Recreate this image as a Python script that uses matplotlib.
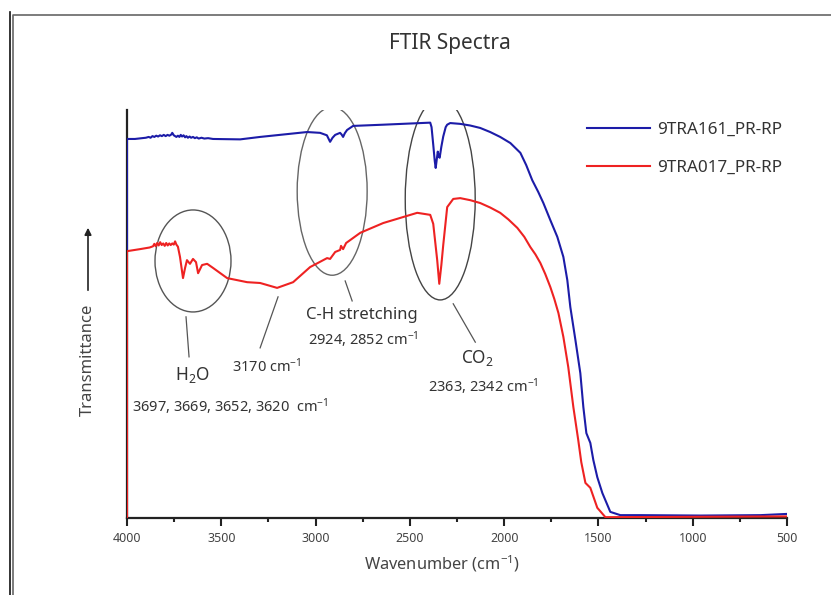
import numpy as np
import matplotlib
matplotlib.use("Agg")
import matplotlib.pyplot as plt
from matplotlib.patches import Ellipse, FancyArrowPatch
from matplotlib.lines import Line2D

plt.rcParams['font.family'] = ['Noto Sans', 'DejaVu Sans']
plt.rcParams['mathtext.fontset'] = 'custom'
plt.rcParams['mathtext.rm'] = 'Noto Sans'
plt.rcParams['mathtext.it'] = 'Noto Sans:italic'

# spectra (wavenumber in cm-1, transmittance in arbitrary units)
wn_161 = [4000, 4000, 3958, 3920, 3900, 3885, 3875, 3865, 3855, 3845, 3835, 3825, 3815, 3805,
          3795, 3785, 3775, 3765, 3760, 3752, 3745, 3738, 3730, 3722, 3715, 3708, 3700, 3692,
          3685, 3677, 3668, 3660, 3650, 3640, 3630, 3620, 3605, 3590, 3570, 3544, 3400, 3294,
          3045, 2976, 2940, 2923, 2910, 2896, 2870, 2862, 2854, 2845, 2833, 2801, 2641, 2392,
          2385, 2376, 2368, 2363, 2357, 2352, 2347, 2342, 2333, 2323, 2310, 2302, 2286, 2233,
          2180, 2127, 2074, 2021, 1967, 1914, 1883, 1851, 1819, 1792, 1755, 1718, 1686, 1665,
          1649, 1622, 1596, 1580, 1564, 1543, 1527, 1506, 1479, 1437, 1384, 1277, 959, 641, 500]
t_161 = [0, 92.9, 92.9, 93.1, 93.2, 93.4, 93.2, 93.6, 93.4, 93.7, 93.5, 93.8, 93.6, 93.9,
         93.6, 93.9, 93.7, 94.0, 94.4, 93.8, 93.6, 93.4, 93.7, 93.4, 93.9, 93.5, 93.8, 93.3,
         93.6, 93.2, 93.5, 93.2, 93.4, 93.1, 93.3, 93.0, 93.2, 93.0, 93.1, 92.9, 92.8, 93.4,
         94.6, 94.4, 93.8, 92.2, 93.2, 93.9, 94.4, 94.0, 93.4, 94.3, 95.1, 96.1, 96.4, 96.9,
         95.8, 91.5, 87.5, 85.8, 88.0, 89.8, 88.6, 88.3, 91.0, 93.5, 95.8, 96.4, 96.8, 96.6,
         96.2, 95.6, 94.6, 93.4, 91.9, 89.5, 86.5, 82.8, 79.9, 77.2, 73.0, 68.9, 64.0, 58.3,
         51.7, 43.6, 35.5, 27.2, 20.8, 18.4, 14.2, 10.0, 6.1, 1.5, 0.7, 0.7, 0.6, 0.7, 1.0]

wn_017 = [4000, 4000, 3931, 3880, 3862, 3855, 3848, 3840, 3832, 3824, 3816, 3808, 3800, 3792,
          3784, 3776, 3768, 3760, 3752, 3745, 3738, 3730, 3719, 3703, 3692, 3682, 3666, 3650,
          3634, 3623, 3602, 3575, 3544, 3469, 3363, 3294, 3204, 3119, 3029, 2939, 2923, 2896,
          2870, 2865, 2854, 2838, 2763, 2641, 2461, 2392, 2376, 2355, 2344, 2333, 2323, 2302,
          2270, 2233, 2180, 2127, 2074, 2021, 1978, 1930, 1893, 1861, 1834, 1808, 1782, 1755,
          1734, 1712, 1686, 1660, 1633, 1607, 1591, 1569, 1543, 1506, 1463, 1224, 500]
t_017 = [0, 65.4, 65.9, 66.3, 66.6, 67.2, 66.6, 67.4, 66.8, 67.6, 66.9, 67.3, 66.7, 67.4,
         66.8, 67.3, 66.9, 67.3, 67.0, 67.8, 67.0, 66.5, 64.0, 58.8, 61.3, 63.2, 62.3, 63.5,
         62.7, 60.0, 62.0, 62.3, 61.3, 58.8, 57.8, 57.6, 56.4, 57.8, 61.5, 63.7, 63.5, 65.2,
         65.7, 66.7, 65.9, 67.4, 69.9, 72.3, 74.8, 74.3, 72.1, 63.2, 57.4, 62.0, 66.9, 76.2,
         78.2, 78.4, 77.9, 77.2, 76.1, 74.8, 73.2, 71.1, 68.9, 66.4, 64.6, 62.5, 59.8, 56.6,
         53.7, 50.2, 44.4, 37.0, 27.2, 19.1, 13.7, 8.6, 7.4, 2.5, 0.2, 0.25, 0.4]

labels = ["9TRA161_PR-RP", "9TRA017_PR-RP"]
x_ticks = [4000, 3500, 3000, 2500, 2000, 1500, 1000, 500]

fig = plt.figure(figsize=(8.31, 5.95), dpi=100)
ax = fig.add_axes([127/831, 1 - 518/595, 660/831, 408/595])

ax.plot(wn_161, t_161, color="#1c1ca8", lw=1.5, label=labels[0], zorder=3)
ax.plot(wn_017, t_017, color="#ee2222", lw=1.5, label=labels[1], zorder=3)

ax.set_xlim(4000, 500)
ax.set_ylim(0, 100)
ax.set_xticks(x_ticks)
ax.set_xticks(np.arange(500, 4001, 250), minor=True)
ax.set_yticks([])
ax.tick_params(axis='x', which='major', length=6, width=1.5, color="#222222",
               labelsize=9, labelcolor="#444444", pad=4)
ax.tick_params(axis='x', which='minor', length=3, width=1.5, color="#222222")
for s in ["top", "right"]:
    ax.spines[s].set_visible(False)
for s in ["bottom", "left"]:
    ax.spines[s].set_linewidth(1.6)
    ax.spines[s].set_color("#222222")
ax.set_xlabel("Wavenumber (cm$^{\\mathregular{-1}}$)", fontsize=11.8, color="#444444", labelpad=6)
ax.xaxis.label.set_x(0.477)

fig.text(450/831, 1 - 43/595, "FTIR Spectra", ha="center", va="center",
         fontsize=15, color="#333333")

# peak markers
for c, w, h, ec in [((3650, 63.0), 403, 25.0, "#555555"),
                    ((2912, 80.1), 371, 41.2, "#666666"),
                    ((2339, 78.2), 371, 49.5, "#444444")]:
    ax.add_patch(Ellipse(c, w, h, fill=False, edgecolor=ec, lw=1.0))

for (x0, y0), (x1, y1) in [((3687, 49.3), (3671, 39.5)),
                           ((3199, 54.2), (3294, 41.7)),
                           ((2843, 58.1), (2806, 53.2)),
                           ((2270, 52.5), (2153, 43.1))]:
    ax.plot([x0, x1], [y0, y1], color="#555555", lw=0.9)

txt = dict(ha="center", va="center", color="#333333")
ax.text(3655, 35.0, "H$_\\mathregular{2}$O", fontsize=12.5, **txt)
ax.text(3453, 27.2, "3697, 3669, 3652, 3620  cm$^{\\mathregular{-1}}$", fontsize=10.5, **txt)
ax.text(3257, 37.0, "3170 cm$^{\\mathregular{-1}}$", fontsize=10.5, **txt)
ax.text(2753, 49.8, "C-H stretching", fontsize=12, **txt)
ax.text(2748, 43.6, "2924, 2852 cm$^{\\mathregular{-1}}$", fontsize=10.5, **txt)
ax.text(2143, 39.2, "CO$_\\mathregular{2}$", fontsize=12.5, **txt)
ax.text(2111, 32.1, "2363, 2342 cm$^{\\mathregular{-1}}$", fontsize=10.5, **txt)

# y label with arrow
fig.text(88/831, 1 - 360/595, "Transmittance", rotation=90, ha="center", va="center",
         fontsize=12, color="#444444")
fig.add_artist(FancyArrowPatch((88/831, 1 - 293/595), (88/831, 1 - 225/595),
                               transform=fig.transFigure, arrowstyle="-|>",
                               mutation_scale=10, color="#222222", lw=1.2))

ax.legend(loc="upper left", bbox_to_anchor=(587/831, 1 - 122/595),
          bbox_transform=fig.transFigure, frameon=False, fontsize=12.3,
          handlelength=3.7, handletextpad=0.4, labelspacing=1.3, borderpad=0,
          borderaxespad=0, labelcolor="#333333")

# page frame
fig.add_artist(Line2D([9.5/831, 9.5/831], [0, 1 - 12/595], transform=fig.transFigure,
                      color="#111111", lw=1.2))
fig.add_artist(Line2D([13.5/831, 13.5/831, 1], [0, 1 - 14.5/595, 1 - 14.5/595],
                      transform=fig.transFigure, color="#666666", lw=1.2))

fig.savefig("out.png", dpi=100)
